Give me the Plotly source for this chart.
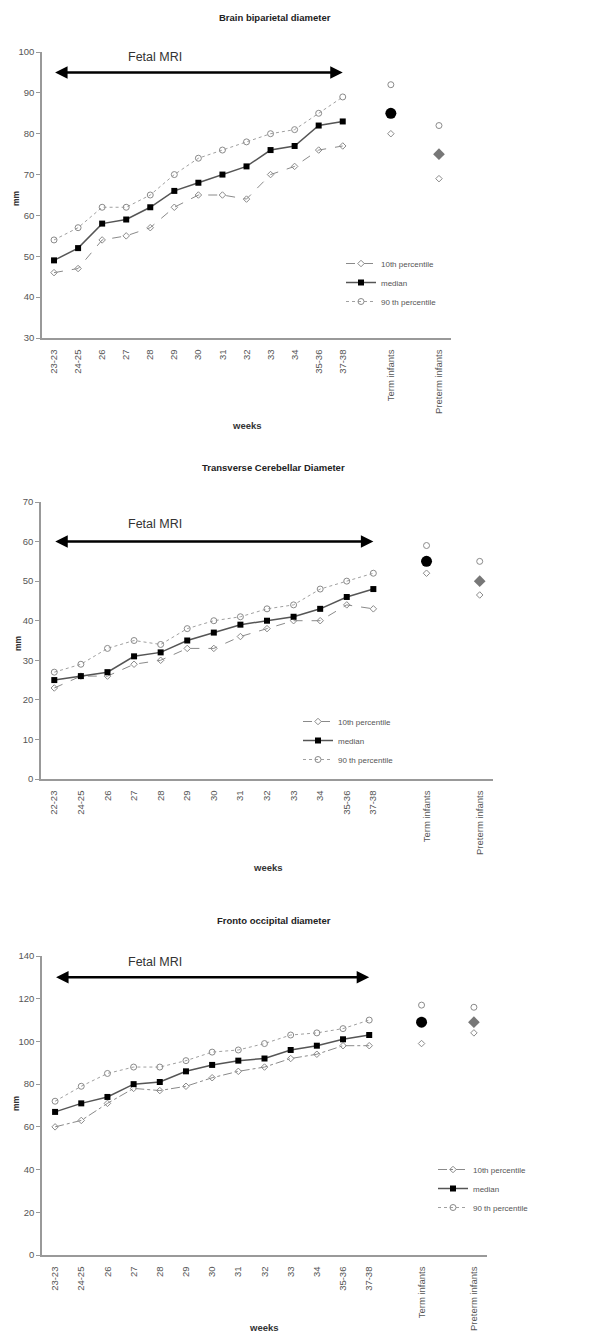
import plotly.graph_objects as go

# page is rendered with an 8px body margin; figure is sized to fit inside the window
OFF = 8
W, H = 613 - OFF, 1334 - OFF

weeks_top = ["23-23", "24-25", "26", "27", "28", "29", "30", "31", "32", "33", "34", "35-36", "37-38"]
weeks_mid = ["22-23", "24-25", "26", "27", "28", "29", "30", "31", "32", "33", "34", "35-36", "37-38"]
weeks_bot = ["23-23", "24-25", "26", "27", "28", "29", "30", "31", "32", "33", "34", "35-36", "37-38"]
groups = ["Term infants", "Preterm infants"]

# Brain biparietal diameter
bpd_p10 = [46, 47, 54, 55, 57, 62, 65, 65, 64, 70, 72, 76, 77]
bpd_med = [49, 52, 58, 59, 62, 66, 68, 70, 72, 76, 77, 82, 83]
bpd_p90 = [54, 57, 62, 62, 65, 70, 74, 76, 78, 80, 81, 85, 89]
bpd_inf_p10 = [80, 69]
bpd_inf_med = [85, 75]
bpd_inf_p90 = [92, 82]

# Transverse cerebellar diameter
tcd_p10 = [23, 26, 26, 29, 30, 33, 33, 36, 38, 40, 40, 44, 43]
tcd_med = [25, 26, 27, 31, 32, 35, 37, 39, 40, 41, 43, 46, 48]
tcd_p90 = [27, 29, 33, 35, 34, 38, 40, 41, 43, 44, 48, 50, 52]
tcd_inf_p10 = [52, 46.5]
tcd_inf_med = [55, 50]
tcd_inf_p90 = [59, 55]

# Fronto occipital diameter
fod_p10 = [60, 63, 71, 78, 77, 79, 83, 86, 88, 92, 94, 98, 98]
fod_med = [67, 71, 74, 80, 81, 86, 89, 91, 92, 96, 98, 101, 103]
fod_p90 = [72, 79, 85, 88, 88, 91, 95, 96, 99, 103, 104, 106, 110]
fod_inf_p10 = [99, 104]
fod_inf_med = [109, 109]
fod_inf_p90 = [117, 116]

titles = ["Brain biparietal diameter", "Transverse Cerebellar Diameter", "Fronto occipital diameter"]
arrow_levels = [95, 60, 130]
y_ranges = [[30, 100], [0, 70], [0, 140]]
y_dticks = [10, 10, 20]

def fx(px):
    return (px - OFF) / W

def fy(py):
    return 1 - (py - OFF) / H

# page-pixel geometry of each panel: (x0, x1, ytop, ybottom)
panels = [(42, 451, 52, 338), (41, 493, 502, 779), (42, 487, 956, 1255)]
title_pos = [(275, 18), (273, 467), (274, 920)]
weeks_pos = [(247, 425), (268, 867), (264, 1327)]
mm_pos = [(16, 198), (18, 643), (16, 1103)]
mri_pos = [(155, 57), (155, 524), (155, 962)]
legend_pos = [(341, 249), (298, 707), (433, 1155)]

data = [
    (weeks_top, bpd_p10, bpd_med, bpd_p90, bpd_inf_p10, bpd_inf_med, bpd_inf_p90),
    (weeks_mid, tcd_p10, tcd_med, tcd_p90, tcd_inf_p10, tcd_inf_med, tcd_inf_p90),
    (weeks_bot, fod_p10, fod_med, fod_p90, fod_inf_p10, fod_inf_med, fod_inf_p90),
]

FONT = "Liberation Sans, Arial, sans-serif"
GREY = "#8a8a8a"
TXT = "#555555"

fig = go.Figure()
annotations = []
layout = {}

for i, (cats, p10, med, p90, ip10, imed, ip90) in enumerate(data):
    n = i + 1
    xa = "x" if n == 1 else f"x{n}"
    ya = "y" if n == 1 else f"y{n}"
    lg = "legend" if n == 1 else f"legend{n}"
    xs = list(range(len(cats)))
    gx = [len(cats) + 1, len(cats) + 3]
    dash10 = "dashdot" if n == 3 else "dash"

    fig.add_trace(go.Scatter(x=xs, y=p10, name="10th percentile", mode="lines+markers",
                             line=dict(color=GREY, width=1, dash=dash10),
                             marker=dict(symbol="diamond-open", size=5, color=GREY, line=dict(width=1)),
                             xaxis=xa, yaxis=ya, legend=lg))
    fig.add_trace(go.Scatter(x=xs, y=med, name="median", mode="lines+markers",
                             line=dict(color="#555555", width=1.5),
                             marker=dict(symbol="square", size=6, color="black"),
                             xaxis=xa, yaxis=ya, legend=lg))
    fig.add_trace(go.Scatter(x=xs, y=p90, name="90 th percentile", mode="lines+markers",
                             line=dict(color="#a0a0a0", width=1, dash="dot"),
                             marker=dict(symbol="circle-open", size=6, color=GREY, line=dict(width=1)),
                             xaxis=xa, yaxis=ya, legend=lg))
    # infants groups
    fig.add_trace(go.Scatter(x=gx, y=ip10, mode="markers", showlegend=False,
                             marker=dict(symbol="diamond-open", size=5, color=GREY, line=dict(width=1)),
                             xaxis=xa, yaxis=ya))
    fig.add_trace(go.Scatter(x=gx, y=ip90, mode="markers", showlegend=False,
                             marker=dict(symbol="circle-open", size=6, color=GREY, line=dict(width=1)),
                             xaxis=xa, yaxis=ya))
    fig.add_trace(go.Scatter(x=gx[:1], y=imed[:1], mode="markers", showlegend=False,
                             marker=dict(symbol="circle", size=11, color="black"),
                             xaxis=xa, yaxis=ya))
    fig.add_trace(go.Scatter(x=gx[1:], y=imed[1:], mode="markers", showlegend=False,
                             marker=dict(symbol="diamond", size=9, color="#777777"),
                             xaxis=xa, yaxis=ya))

    x0, x1, yt, yb = panels[i]
    tickvals = xs + gx
    ticktext = cats + groups
    layout["xaxis" if n == 1 else f"xaxis{n}"] = dict(
        domain=[fx(x0), fx(x1)], anchor=ya, range=[-0.5, len(cats) + 3.5],
        tickvals=tickvals, ticktext=ticktext, tickangle=-90, automargin=False,
        showgrid=False, zeroline=False, showline=True, linecolor="#999999", linewidth=1.5,
        ticks="", ticklabelstandoff=6,
        tickfont=dict(family=FONT, size=9.5, color=TXT),
    )
    layout["yaxis" if n == 1 else f"yaxis{n}"] = dict(
        domain=[fy(yb), fy(yt)], anchor=xa, range=y_ranges[i], dtick=y_dticks[i], automargin=False,
        showgrid=False, zeroline=False, showline=True, linecolor="#999999", linewidth=1.5,
        ticks="outside", ticklen=4, tickcolor="#999999",
        tickfont=dict(family=FONT, size=9.5, color=TXT),
    )
    lx, ly = legend_pos[i]
    layout[lg] = dict(x=fx(lx), y=fy(ly), xanchor="left", yanchor="top",
                      font=dict(family=FONT, size=8, color=TXT), bgcolor="rgba(0,0,0,0)",
                      itemwidth=30, tracegroupgap=0)

    # double-headed arrow for Fetal MRI span
    annotations.append(dict(x=len(cats) - 1, y=arrow_levels[i], ax=-0.02, ay=arrow_levels[i],
                            xref=xa, yref=ya, axref=xa, ayref=ya, text="", showarrow=True,
                            arrowhead=2, arrowside="end+start", arrowsize=1, arrowwidth=2.5,
                            arrowcolor="black"))
    common = dict(xref="paper", yref="paper", xanchor="center", yanchor="middle", showarrow=False)
    tx, ty = mri_pos[i]
    annotations.append(dict(x=fx(tx), y=fy(ty), text="Fetal MRI",
                            font=dict(family=FONT, size=12.5, color="#333333"), **common))
    tx, ty = title_pos[i]
    annotations.append(dict(x=fx(tx), y=fy(ty), text=f"<b>{titles[i]}</b>",
                            font=dict(family=FONT, size=9.5, color="#222222"), **common))
    tx, ty = weeks_pos[i]
    annotations.append(dict(x=fx(tx), y=fy(ty), text="<b>weeks</b>",
                            font=dict(family=FONT, size=9.5, color="#333333"), **common))
    tx, ty = mm_pos[i]
    annotations.append(dict(x=fx(tx), y=fy(ty), text="<b>mm</b>", textangle=-90,
                            font=dict(family=FONT, size=8.5, color="#333333"), **common))

fig.update_layout(width=W, height=H, margin=dict(l=0, r=0, t=0, b=0, autoexpand=False),
                  paper_bgcolor="white", plot_bgcolor="white",
                  annotations=annotations, **layout)

fig.write_html("out.html")
